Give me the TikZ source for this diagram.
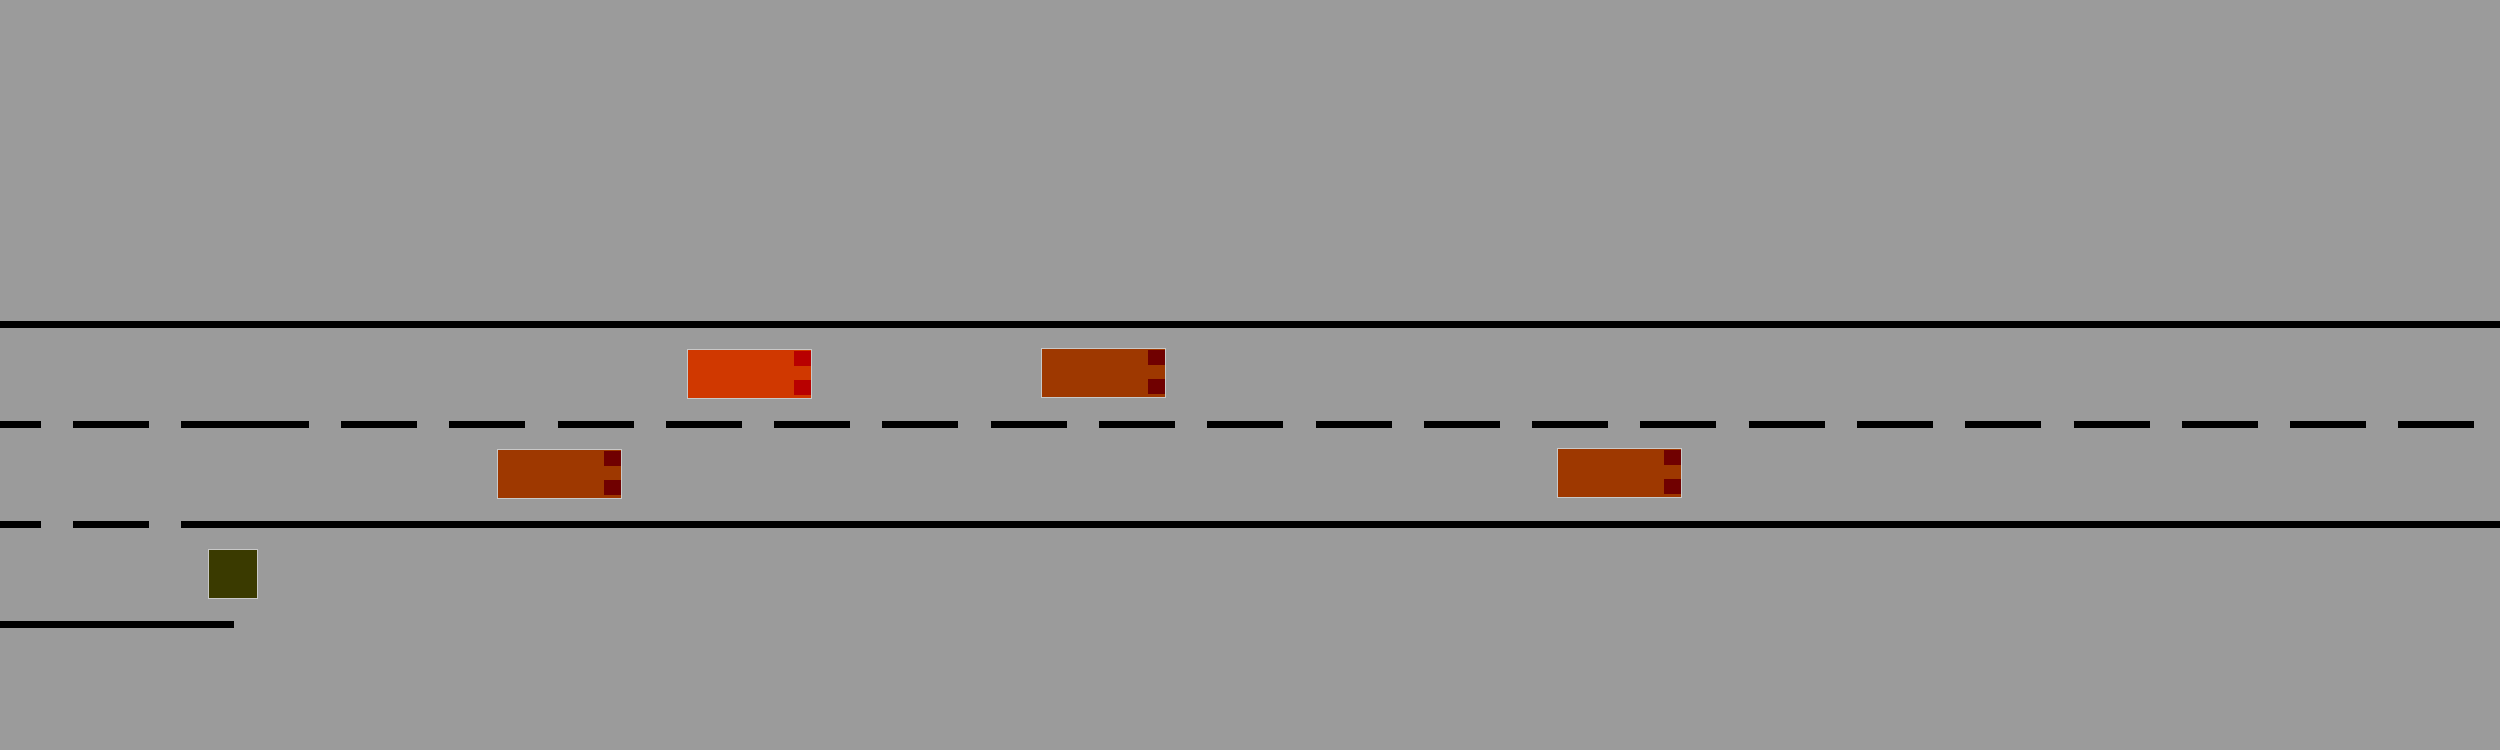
\documentclass[tikz,border=0pt]{standalone}
\definecolor{bg}{RGB}{155,155,155}
\definecolor{carred}{RGB}{208,56,0}
\definecolor{sqred}{RGB}{184,0,0}
\definecolor{carbrown}{RGB}{158,56,0}
\definecolor{sqbrown}{RGB}{112,0,0}
\definecolor{olive}{RGB}{58,58,0}
\definecolor{edge}{RGB}{200,200,200}
\newcommand\drawcar[4]{%
  \fill[#3,draw=edge,line width=0.12mm] (#1,#2) rectangle ++(124.4,49);
  \fill[#4] (#1+106.7,#2+1.4) rectangle ++(17,15);
  \fill[#4] (#1+106.7,#2+30.7) rectangle ++(17,15);
}
\begin{document}
\begin{tikzpicture}[x=0.01cm,y=-0.01cm,
  roadline/.style={line width=0.07cm,black},
  ]
\fill[bg] (0,0) rectangle (2500,750);
\useasboundingbox (0,0) rectangle (2500,750);
% road edges
\draw[roadline] (0,324.5) -- (2500,324.5);
\draw[roadline] (181,524.5) -- (2500,524.5);
\draw[roadline] (0,524.5) -- (41,524.5);
\draw[roadline] (73,524.5) -- (149,524.5);
\draw[roadline] (0,624.5) -- (234,624.5);
% centre dashed line
\draw[roadline] (0,424.5) -- (41,424.5);
\draw[roadline] (73,424.5) -- (149,424.5);
\draw[roadline] (181,424.5) -- (309,424.5);
\foreach \i in {0,...,19}{
  \draw[roadline] (341+\i*108.28,424.5) -- ++(76,0);
}
% cars
\drawcar{687.3}{349.3}{carred}{sqred}
\drawcar{1041.3}{348.3}{carbrown}{sqbrown}
\drawcar{497.3}{449.3}{carbrown}{sqbrown}
\drawcar{1557.3}{448.3}{carbrown}{sqbrown}
% square
\fill[olive,draw=edge,line width=0.12mm] (208.3,549.3) rectangle (257.7,598.7);
\end{tikzpicture}
\end{document}
